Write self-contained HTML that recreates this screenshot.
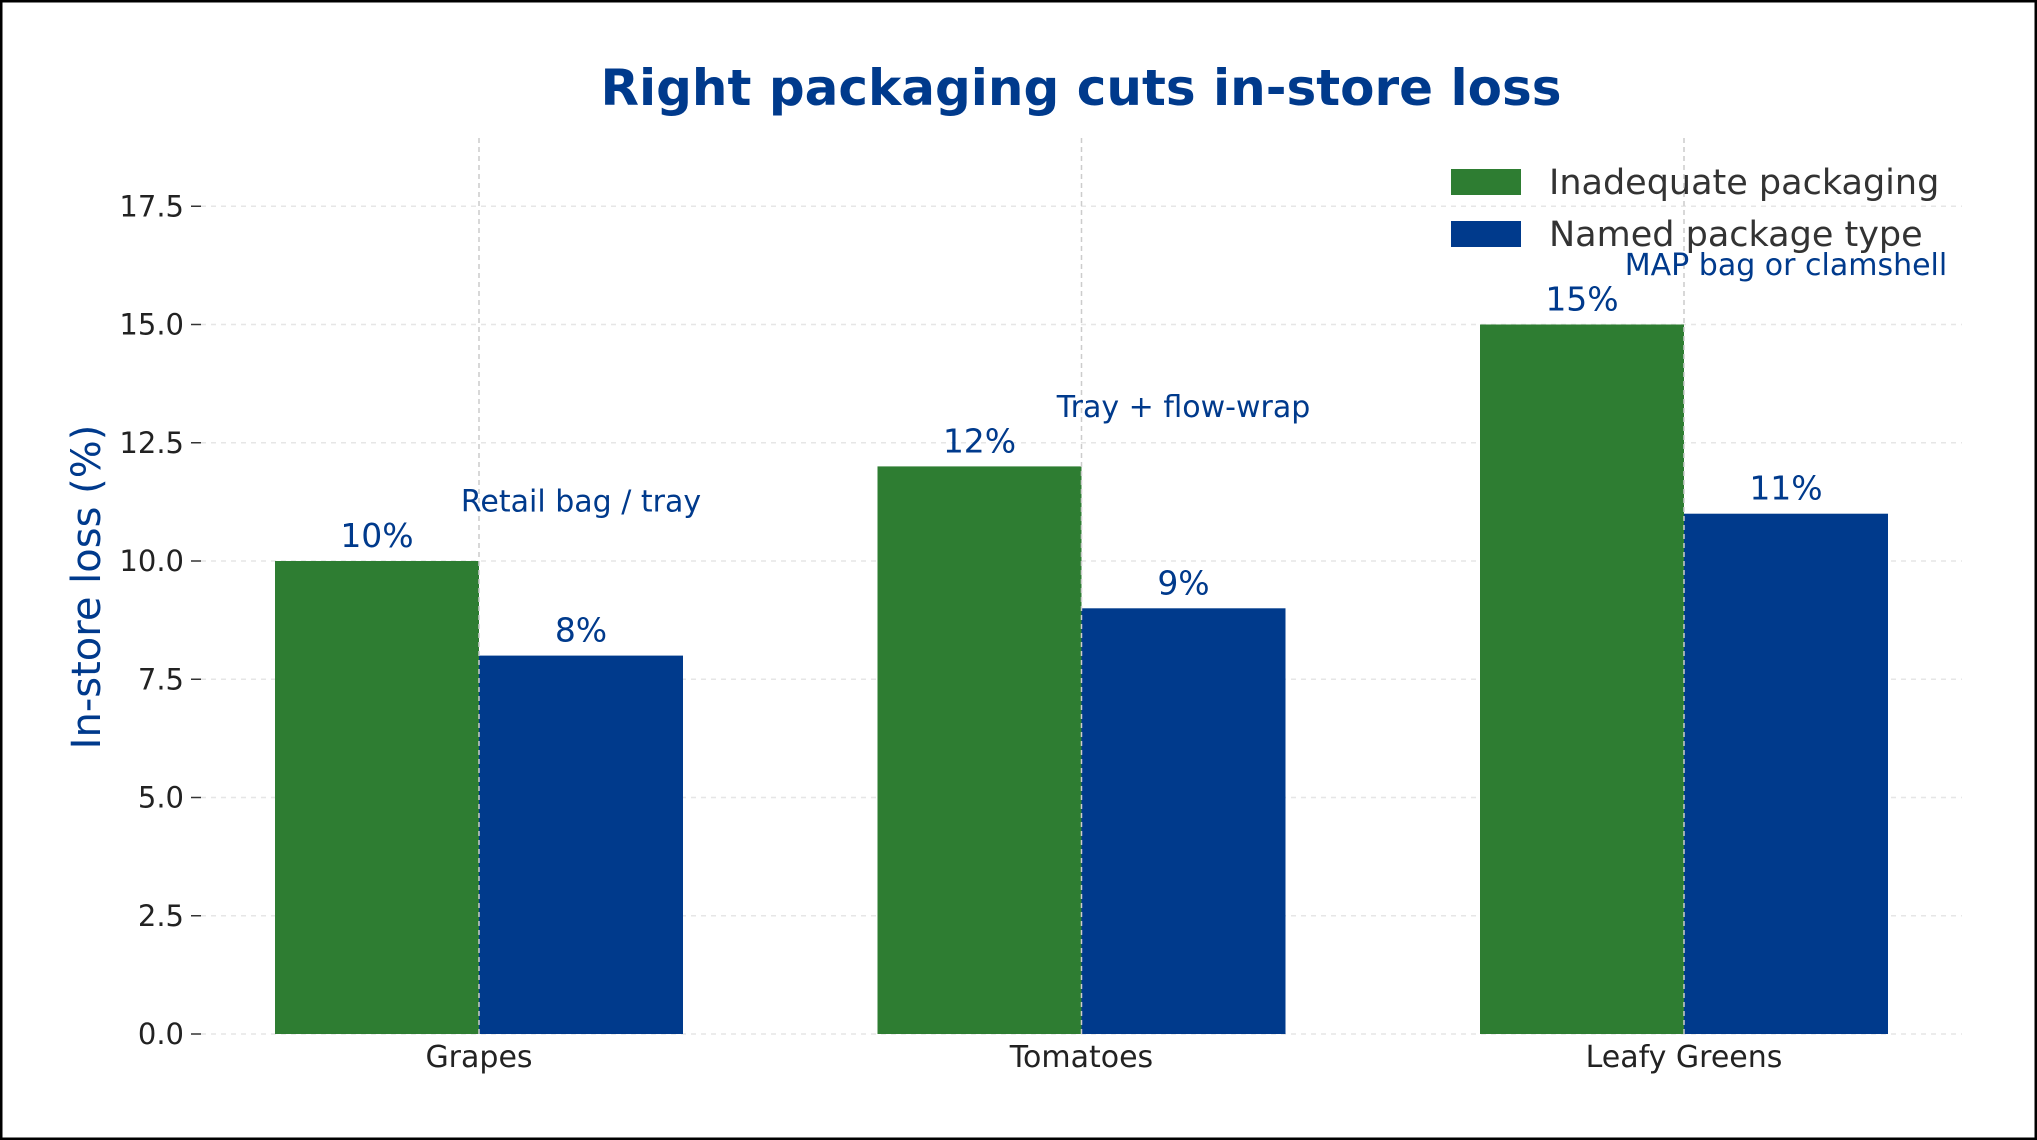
<!DOCTYPE html>
<html><head><meta charset="utf-8"><style>
html,body{margin:0;padding:0;background:#fff;}
svg{display:block;font-family:"DejaVu Sans","Liberation Sans",sans-serif;}
</style></head><body>
<svg id="chart" width="2037" height="1140" viewBox="0 0 2037 1140">
<rect x="1" y="1" width="2035" height="1138" fill="#fff" stroke="#000" stroke-width="3"/>
<text x="1081" y="105" text-anchor="middle" font-size="50" font-weight="bold" fill="#003a8c">Right packaging cuts in-store loss</text>
<text transform="translate(100,587) rotate(-90)" text-anchor="middle" font-size="40" fill="#003a8c">In-store loss (%)</text>
<g id="grid"></g><g id="bars"></g><g id="labels"></g>
<g>
<rect x="1451" y="169" width="70" height="26" fill="#2e7d32"/>
<text x="1549" y="194" font-size="35" fill="#333">Inadequate packaging</text>
<rect x="1451" y="221" width="70" height="26" fill="#003a8c"/>
<text x="1549" y="246" font-size="35" fill="#333">Named package type</text>
</g>
</svg>
<script>
const categories=["Grapes","Tomatoes","Leafy Greens"];
const inadequate=[10,12,15];
const named=[8,9,11];
const packageNames=["Retail bag / tray","Tray + flow-wrap","MAP bag or clamshell"];
const yTicks=[0,2.5,5,7.5,10,12.5,15,17.5];
const NS="http://www.w3.org/2000/svg";
const y0=1034,perUnit=47.3,catX=[479,1081,1684],barW=204,left=201,right=1962;
function y(v){return y0-v*perUnit;}
function x(i){return catX[0]+i*(catX[2]-catX[0])/(categories.length-1);}
function mk(tag,attrs,parent,text){const e=document.createElementNS(NS,tag);for(const k in attrs)e.setAttribute(k,attrs[k]);if(text!==undefined)e.textContent=text;document.getElementById(parent).appendChild(e);return e;}
yTicks.forEach(t=>{
 const g=mk('line',{x1:left,x2:right,y1:y(t),y2:y(t),stroke:'#e6e6e6','stroke-width':1.5,'stroke-dasharray':'5,5'},'grid');
 
 
 const tk=mk('line',{x1:left-10,x2:left,y1:y(t),y2:y(t),stroke:'#333','stroke-width':1.5},'grid');
 
 
 const l=mk('text',{x:left-17,y:y(t)+10,'text-anchor':'end','font-size':29,fill:'#222'},'labels',t.toFixed(1));
 
 
});
categories.forEach((c,i)=>{
 const cx=x(i);
 const g1=mk('rect',{x:cx-barW,y:y(inadequate[i]),width:barW,height:y0-y(inadequate[i]),fill:'#2e7d32'},'bars');
 
 
 const b1=mk('rect',{x:cx,y:y(named[i]),width:barW,height:y0-y(named[i]),fill:'#003a8c'},'bars');
 
 
 const v=mk('line',{x1:cx,x2:cx,y1:138,y2:y0,stroke:'#ccc','stroke-width':1.5,'stroke-dasharray':'5,4'},'bars');
 
 
 const tl=mk('text',{x:cx,y:y0+33,'text-anchor':'middle','font-size':30,fill:'#222'},'labels',c);
 
 
 const l1=mk('text',{x:cx-barW/2,y:y(inadequate[i])-14,'text-anchor':'middle','font-size':33,fill:'#003a8c'},'labels',inadequate[i]+'%');
 
 
 const l2=mk('text',{x:cx+barW/2,y:y(named[i])-14,'text-anchor':'middle','font-size':33,fill:'#003a8c'},'labels',named[i]+'%');
 
 
 const a=mk('text',{x:cx+barW/2,y:y(inadequate[i]+1.26)+10,'text-anchor':'middle','font-size':30,fill:'#003a8c'},'labels',packageNames[i]);
 
 
});
</script>
</body></html>
